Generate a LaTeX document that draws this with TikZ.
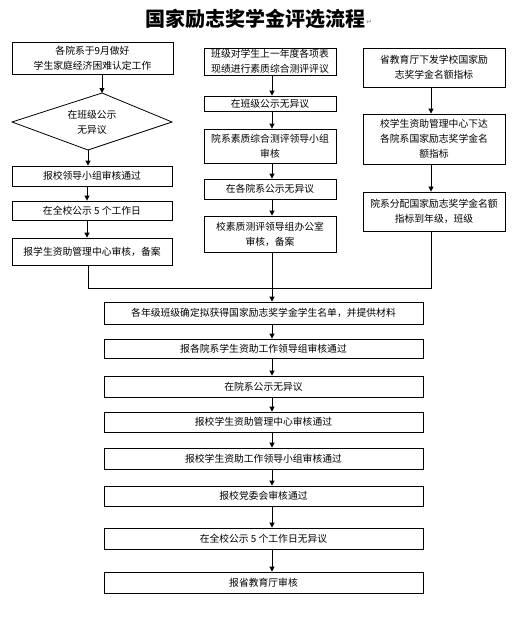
\documentclass[tikz,border=0pt]{standalone}
\usepackage{fontspec}
\setmainfont{Noto Sans CJK SC}
\newfontfamily\symfont{DejaVu Sans}
\usetikzlibrary{arrows.meta}
\begin{document}
\begin{tikzpicture}[x=1pt,y=-1pt,
  box/.style={draw=black,line width=0.8pt,inner sep=0pt,align=center,
    font=\fontsize{9.8pt}{15pt}\selectfont},
  lbl/.style={inner sep=0pt,align=center,font=\fontsize{9.8pt}{15pt}\selectfont},
  arr/.style={draw=black,line width=0.8pt,-{Triangle[length=5pt,width=5pt]}},
  ln/.style={draw=black,line width=0.8pt}]
\useasboundingbox[fill=white] (0,0) rectangle (524,621);
% title
\node[inner sep=0pt,font=\fontsize{20pt}{22pt}\selectfont\bfseries] (title) at (255,19) {国家励志奖学金评选流程};
\node[inner sep=0pt,anchor=west,text=gray,font=\symfont\fontsize{7pt}{8pt}\selectfont] (pm) at ([xshift=1pt,yshift=-3pt]title.east) {↵};
% left column
\node[box,minimum width=161pt,minimum height=32pt] (l1) at (92.5,58) {各院系于9月做好\\学生家庭经济困难认定工作};
\coordinate (dt) at (102,93);
\coordinate (dl) at (12,122);
\coordinate (dr) at (172,122);
\coordinate (db) at (88,150);
\draw[ln] (dt) -- (dr) -- (db) -- (dl) -- cycle;
\node[lbl] (d) at (92,122) {在班级公示\\无异议};
\node[box,minimum width=160pt,minimum height=20pt] (l2) at (92,176) {报校领导小组审核通过};
\node[box,minimum width=160pt,minimum height=19pt] (l3) at (92,210.5) {在全校公示 5 个工作日};
\node[box,minimum width=160pt,minimum height=27pt] (l4) at (92,251.5) {报学生资助管理中心审核，备案};
\draw[arr] (l1.south -| dt) -- (dt);
\draw[arr] (db) -- (db |- l2.north);
\coordinate (lx) at (87,0);
\draw[arr] (l2.south -| lx) -- (l3.north -| lx);
\draw[arr] (l3.south -| lx) -- (l4.north -| lx);
% middle column
\node[box,minimum width=132pt,minimum height=27pt] (m1) at (270,61.5) {班级对学生上一年度各项表\\现绩进行素质综合测评评议};
\node[box,minimum width=132pt,minimum height=15pt] (m2) at (270,103.5) {在班级公示无异议};
\node[box,minimum width=132pt,minimum height=34pt] (m3) at (270,146) {院系素质综合测评领导小组\\审核};
\node[box,minimum width=132pt,minimum height=20pt] (m4) at (270,189) {在各院系公示无异议};
\node[box,minimum width=132pt,minimum height=36pt] (m5) at (270,234) {校素质测评领导组办公室\\审核，备案};
\coordinate (mx) at (272,0);
\draw[arr] (m1.south -| mx) -- (m2.north -| mx);
\draw[arr] (m2.south -| mx) -- (m3.north -| mx);
\draw[arr] (m3.south -| mx) -- (m4.north -| mx);
\draw[arr] (m4.south -| mx) -- (m5.north -| mx);
% right column
\node[box,minimum width=142pt,minimum height=39pt] (r1) at (434,67.5) {省教育厅下发学校国家励\\志奖学金名额指标};
\node[box,minimum width=142pt,minimum height=50pt] (r2) at (434,139) {校学生资助管理中心下达\\各院系国家励志奖学金名\\额指标};
\node[box,minimum width=142pt,minimum height=39pt] (r3) at (434,211.5) {院系分配国家励志奖学金名额\\指标到年级，班级};
\coordinate (rx) at (431,0);
\draw[arr] (r1.south -| rx) -- (r2.north -| rx);
\draw[arr] (r2.south -| rx) -- (r3.north -| rx);
% bottom column
\node[box,minimum width=319pt,minimum height=22pt] (b1) at (263.5,313) {各年级班级确定拟获得国家励志奖学金学生名单，并提供材料};
\node[box,minimum width=319pt,minimum height=19pt] (b2) at (263.5,348.5) {报各院系学生资助工作领导组审核通过};
\node[box,minimum width=319pt,minimum height=21pt] (b3) at (263.5,386.5) {在院系公示无异议};
\node[box,minimum width=319pt,minimum height=20pt] (b4) at (263.5,422) {报校学生资助管理中心审核通过};
\node[box,minimum width=319pt,minimum height=21pt] (b5) at (263.5,458.5) {报校学生资助工作领导小组审核通过};
\node[box,minimum width=319pt,minimum height=20pt] (b6) at (263.5,496) {报校党委会审核通过};
\node[box,minimum width=319pt,minimum height=21pt] (b7) at (263.5,538.5) {在全校公示 5 个工作日无异议};
\node[box,minimum width=319pt,minimum height=21pt] (b8) at (263.5,582.5) {报省教育厅审核};
% junction
\coordinate (jl) at (88,288);
\coordinate (jr) at (431,288);
\draw[ln] (l4.south -| jl) -- (jl) -- (jr) -- (r3.south -| jr);
\draw[arr] (m5.south -| mx) -- (b1.north -| mx);
\draw[arr] (b1.south -| mx) -- (b2.north -| mx);
\draw[arr] (b2.south -| mx) -- (b3.north -| mx);
\draw[arr] (b3.south -| mx) -- (b4.north -| mx);
\draw[arr] (b4.south -| mx) -- (b5.north -| mx);
\draw[arr] (b5.south -| mx) -- (b6.north -| mx);
\draw[arr] (b6.south -| mx) -- (b7.north -| mx);
\draw[arr] (b7.south -| mx) -- (b8.north -| mx);
\end{tikzpicture}
\end{document}
